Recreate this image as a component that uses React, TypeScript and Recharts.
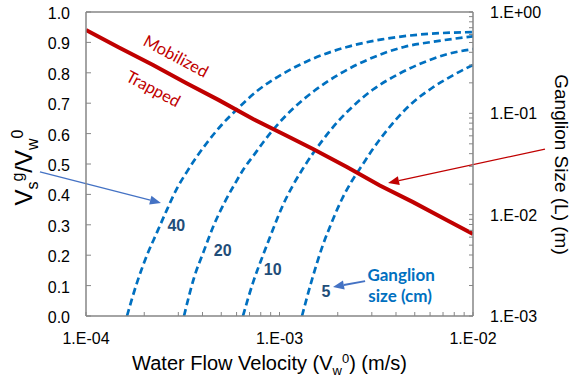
import { LineChart, Line, XAxis, YAxis, ReferenceLine, ReferenceDot } from 'recharts'

// ganglion size curves: water velocity (m/s) vs Vs/Vw ratio
const velocity40 = [1.629e-4, 1.835e-4, 2.066e-4, 2.327e-4, 2.622e-4, 2.953e-4, 3.327e-4, 3.747e-4, 4.22e-4, 5.045e-4, 6.031e-4, 7.65e-4, 1.03e-3, 1.472e-3, 2.232e-3, 3.386e-3, 5.135e-3, 1e-2]
const ratio40 = [0, 0.11, 0.2, 0.275, 0.35, 0.42, 0.475, 0.525, 0.57, 0.63, 0.68, 0.74, 0.795, 0.845, 0.885, 0.91, 0.925, 0.934]

const velocity20 = [3.21e-4, 3.614e-4, 4.072e-4, 4.586e-4, 5.167e-4, 5.82e-4, 6.554e-4, 7.385e-4, 8.318e-4, 9.94e-4, 1.188e-3, 1.508e-3, 2.03e-3, 2.901e-3, 4.399e-3, 6.673e-3, 1e-2]
const ratio20 = [0, 0.125, 0.215, 0.3, 0.37, 0.43, 0.485, 0.53, 0.575, 0.635, 0.685, 0.74, 0.795, 0.845, 0.885, 0.905, 0.92]

const velocity10 = [6.477e-4, 7.295e-4, 8.219e-4, 9.256e-4, 1.042e-3, 1.174e-3, 1.322e-3, 1.49e-3, 1.678e-3, 2.006e-3, 2.398e-3, 3.043e-3, 4.097e-3, 5.853e-3, 7.425e-3, 1e-2]
const ratio10 = [0, 0.11, 0.2, 0.285, 0.365, 0.43, 0.485, 0.535, 0.58, 0.64, 0.69, 0.745, 0.795, 0.84, 0.862, 0.878]

const velocity5 = [1.307e-3, 1.472e-3, 1.658e-3, 1.867e-3, 2.104e-3, 2.37e-3, 2.669e-3, 3.006e-3, 3.386e-3, 4.048e-3, 4.839e-3, 6.139e-3, 7.79e-3, 1e-2]
const ratio5 = [0, 0.12, 0.225, 0.31, 0.385, 0.445, 0.495, 0.545, 0.59, 0.65, 0.7, 0.75, 0.79, 0.826]

// mobilization threshold: velocity vs ganglion size L (m), right axis
const thresholdVelocity = [1e-4, 1.48e-4, 2.22e-4, 3.29e-4, 4.86e-4, 7.3e-4, 1.07e-3, 1.49e-3, 2.23e-3, 3.3e-3, 4.9e-3, 7.3e-3, 1e-2]
const thresholdSize = [0.664, 0.446, 0.3, 0.199, 0.135, 0.0879, 0.0611, 0.0444, 0.0295, 0.0194, 0.0133, 0.00885, 0.00645]

const xTicks = [1e-4, 2e-4, 3e-4, 4e-4, 5e-4, 6e-4, 7e-4, 8e-4, 9e-4, 1e-3, 2e-3, 3e-3, 4e-3, 5e-3, 6e-3, 7e-3, 8e-3, 9e-3, 1e-2]
const leftTicks = [0, 0.1, 0.2, 0.3, 0.4, 0.5, 0.6, 0.7, 0.8, 0.9, 1.0]
const rightTicks = [1e-3, 2e-3, 3e-3, 4e-3, 5e-3, 6e-3, 7e-3, 8e-3, 9e-3, 1e-2, 2e-2, 3e-2, 4e-2, 5e-2, 6e-2, 7e-2, 8e-2, 9e-2, 1e-1, 2e-1, 3e-1, 4e-1, 5e-1, 6e-1, 7e-1, 8e-1, 9e-1, 1]

const curveLabels = ['40', '20', '10', '5']
const curveLabelVelocity = [2.93e-4, 5.09e-4, 9.22e-4, 1.74e-3]
const curveLabelRatio = [0.297, 0.217, 0.154, 0.08]

const zip = (xs: number[], ys: number[], key: string) => xs.map((v, i) => ({ v, [key]: ys[i] }))

const GRAY = '#868686'
const RED = '#C00000'
const BLUE = '#0070C0'
const ARROW_BLUE = '#4472C4'
const ARIAL = '"Liberation Sans", Arial, sans-serif'
const CALIBRI = 'Lato, "Noto Sans", sans-serif'

const isDecade = (v: number) => Math.abs(Math.log10(v) - Math.round(Math.log10(v))) < 1e-6
const sci = (v: number) => {
  const e = Math.round(Math.log10(v))
  return `1.E${e < 0 ? '-' : '+'}${String(Math.abs(e)).padStart(2, '0')}`
}

function BottomTick(props: any) {
  const { x, y, payload } = props
  const major = isDecade(payload.value)
  return (
    <g>
      <line x1={x} x2={x} y1={y} y2={y - 4} stroke={GRAY} strokeWidth={1} />
      {major && (
        <text x={x} y={y + 28} textAnchor="middle" fontSize={16} fontFamily={ARIAL} fill="#000">
          {sci(payload.value)}
        </text>
      )}
    </g>
  )
}

function LeftTick(props: any) {
  const { x, y, payload } = props
  return (
    <g>
      <line x1={x} x2={x + 5} y1={y} y2={y} stroke={GRAY} strokeWidth={1} />
      <text x={x - 16} y={y + 7} textAnchor="end" fontSize={16} fontFamily={ARIAL} fill="#000">
        {payload.value.toFixed(1)}
      </text>
    </g>
  )
}

function RightTick(props: any) {
  const { x, y, payload } = props
  const major = isDecade(payload.value)
  return (
    <g>
      <line x1={x} x2={x - 4} y1={y} y2={y} stroke={GRAY} strokeWidth={1} />
      {major && (
        <text x={x + 17} y={y + 6} textAnchor="start" fontSize={16} fontFamily={ARIAL} fill="#000">
          {sci(payload.value)}
        </text>
      )}
    </g>
  )
}

function XTitle(props: any) {
  const vb = props.viewBox || { x: 86, y: 316, width: 387, height: 65 }
  return (
    <text x={vb.x + vb.width / 2 - 10} y={vb.y + 54} textAnchor="middle" fontSize={20} fontFamily={ARIAL} fill="#000">
      Water Flow Velocity (V<tspan dy={5} fontSize={13}>w</tspan>
      <tspan dy={-12} fontSize={13}>0</tspan>
      <tspan dy={7}>) (m/s)</tspan>
    </text>
  )
}

function LeftTitle(props: any) {
  const vb = props.viewBox || { x: 0, y: 12, width: 86, height: 304 }
  const cx = vb.x + 32
  const cy = vb.y + vb.height / 2 + 3.5
  return (
    <text x={cx} y={cy} transform={`rotate(-90, ${cx}, ${cy})`} textAnchor="middle" fontSize={24} fontFamily={ARIAL} fill="#000">
      V<tspan dy={6} fontSize={16}>s</tspan>
      <tspan dy={-15} fontSize={16}>g</tspan>
      <tspan dy={9}>/V</tspan>
      <tspan dy={6} fontSize={16}>w</tspan>
      <tspan dy={-15} fontSize={16}>0</tspan>
    </text>
  )
}

function RightTitle(props: any) {
  const vb = props.viewBox || { x: 473, y: 12, width: 100, height: 304 }
  const cx = vb.x + 82
  const cy = vb.y + vb.height / 2 + 0.5
  return (
    <text x={cx} y={cy} transform={`rotate(90, ${cx}, ${cy})`} textAnchor="middle" fontSize={19} fontFamily={ARIAL} fill="#000">
      Ganglion Size (L) (m)
    </text>
  )
}

function arrow(color: string, width: number) {
  return (p: any) => {
    const { x1, y1, x2, y2 } = p
    const a = Math.atan2(y2 - y1, x2 - x1)
    const len = 11
    const half = 4.5
    const bx = x2 - len * Math.cos(a)
    const by = y2 - len * Math.sin(a)
    const pts = `${x2},${y2} ${bx - half * Math.sin(a)},${by + half * Math.cos(a)} ${bx + half * Math.sin(a)},${by - half * Math.cos(a)}`
    return (
      <g>
        <line x1={x1} y1={y1} x2={bx} y2={by} stroke={color} strokeWidth={width} />
        <polygon points={pts} fill={color} />
      </g>
    )
  }
}

function textShape(text: string, style: any) {
  return (p: any) => {
    const { cx, cy } = p
    const rot = style.angle ? `rotate(${style.angle}, ${cx}, ${cy})` : undefined
    return (
      <text
        x={cx}
        y={cy}
        transform={rot}
        textAnchor="middle"
        dominantBaseline="central"
        fontSize={style.fontSize}
        fontWeight={style.fontWeight}
        fontFamily={style.fontFamily}
        fill={style.fill}
      >
        {text}
      </text>
    )
  }
}

export default function App() {
  const series = [
    { id: '40', data: zip(velocity40, ratio40, 'ratio') },
    { id: '20', data: zip(velocity20, ratio20, 'ratio') },
    { id: '10', data: zip(velocity10, ratio10, 'ratio') },
    { id: '5', data: zip(velocity5, ratio5, 'ratio') },
  ]
  const threshold = zip(thresholdVelocity, thresholdSize, 'size')

  return (
    <div>
      <style>{'body{margin:0}'}</style>
      <LineChart width={573} height={381} margin={{ top: 12, right: 0, bottom: 0, left: 0 }}>
        <XAxis
          dataKey="v"
          type="number"
          scale="log"
          domain={[1e-4, 1e-2]}
          allowDataOverflow
          ticks={xTicks}
          interval={0}
          tick={BottomTick}
          tickLine={false}
          tickSize={0}
          tickMargin={0}
          height={65}
          axisLine={{ stroke: GRAY, strokeWidth: 1.5 }}
          label={(p: any) => <XTitle {...p} />}
        />
        <YAxis
          yAxisId="left"
          type="number"
          domain={[0, 1]}
          ticks={leftTicks}
          interval={0}
          tick={LeftTick}
          tickLine={false}
          tickSize={0}
          tickMargin={0}
          width={86}
          axisLine={{ stroke: GRAY, strokeWidth: 1.5 }}
          label={(p: any) => <LeftTitle {...p} />}
        />
        <YAxis
          yAxisId="right"
          orientation="right"
          type="number"
          scale="log"
          domain={[1e-3, 1]}
          allowDataOverflow
          ticks={rightTicks}
          interval={0}
          tick={RightTick}
          tickLine={false}
          tickSize={0}
          tickMargin={0}
          width={100}
          axisLine={{ stroke: GRAY, strokeWidth: 1.5 }}
          label={(p: any) => <RightTitle {...p} />}
        />
        <ReferenceLine yAxisId="left" y={1} stroke={GRAY} strokeWidth={1.5} />

        {series.map((s) => (
          <Line
            key={s.id}
            yAxisId="left"
            data={s.data}
            dataKey="ratio"
            type="monotone"
            stroke={BLUE}
            strokeWidth={2.7}
            strokeDasharray="7 4"
            dot={false}
            activeDot={false}
            isAnimationActive={false}
          />
        ))}
        <Line
          yAxisId="right"
          data={threshold}
          dataKey="size"
          type="linear"
          stroke={RED}
          strokeWidth={4}
          dot={false}
          activeDot={false}
          isAnimationActive={false}
        />

        <ReferenceLine
          yAxisId="left"
          ifOverflow="visible"
          segment={[{ x: 5.78e-5, y: 0.474 }, { x: 2.44e-4, y: 0.372 }]}
          shape={arrow(ARROW_BLUE, 1.3)}
        />
        <ReferenceLine
          yAxisId="left"
          ifOverflow="visible"
          segment={[{ x: 2.77e-3, y: 0.115 }, { x: 1.89e-3, y: 0.0954 }]}
          shape={arrow(ARROW_BLUE, 1.8)}
        />
        <ReferenceLine
          yAxisId="left"
          ifOverflow="visible"
          segment={[{ x: 2.355e-2, y: 0.549 }, { x: 3.64e-3, y: 0.4375 }]}
          shape={arrow(RED, 1.3)}
        />

        <ReferenceDot
          yAxisId="left"
          x={2.92e-4}
          y={0.855}
          shape={textShape('Mobilized', { fontSize: 16.5, fontFamily: CALIBRI, fill: RED, angle: 28 })}
        />
        <ReferenceDot
          yAxisId="left"
          x={2.23e-4}
          y={0.748}
          shape={textShape('Trapped', { fontSize: 16.5, fontFamily: CALIBRI, fill: RED, angle: 28 })}
        />
        {curveLabels.map((t, i) => (
          <ReferenceDot
            key={t}
            yAxisId="left"
            x={curveLabelVelocity[i]}
            y={curveLabelRatio[i]}
            shape={textShape(t, { fontSize: 16, fontWeight: 'bold', fontFamily: ARIAL, fill: '#1F4E79' })}
          />
        ))}
        <ReferenceDot
          yAxisId="left"
          x={4.25e-3}
          y={0.138}
          shape={textShape('Ganglion', { fontSize: 17, fontWeight: 'bold', fontFamily: CALIBRI, fill: BLUE })}
        />
        <ReferenceDot
          yAxisId="left"
          x={4.2e-3}
          y={0.066}
          shape={textShape('size (cm)', { fontSize: 17, fontWeight: 'bold', fontFamily: CALIBRI, fill: BLUE })}
        />
      </LineChart>
    </div>
  )
}
